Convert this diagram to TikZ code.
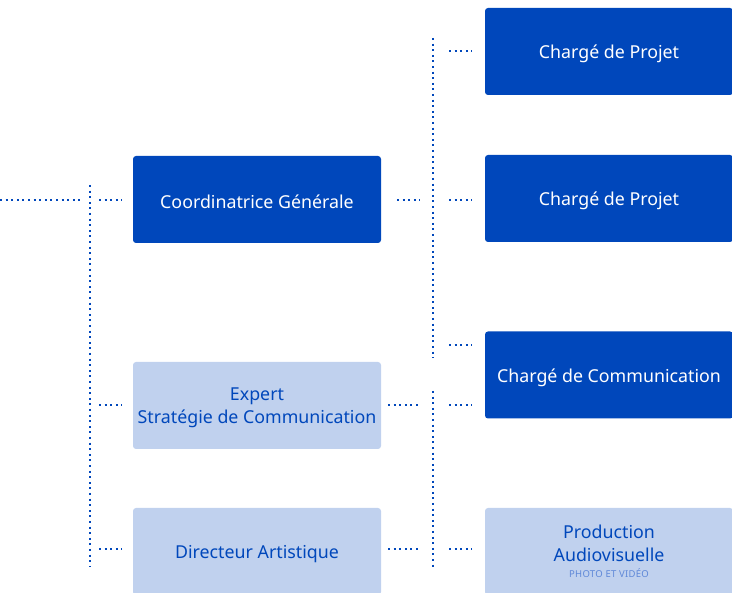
\documentclass[tikz,border=0pt]{standalone}
\usepackage{fontspec}
\setmainfont{Noto Sans}
\definecolor{dkblue}{HTML}{0047BB}
\definecolor{ltblue}{HTML}{C0D1EE}
\definecolor{smallblue}{HTML}{5F88D8}
\begin{document}
\begin{tikzpicture}[x=1pt,y=-1pt,
  box/.style={rounded corners=3pt,minimum width=248pt,minimum height=87pt,inner sep=0pt},
  dark/.style={box,fill=dkblue},
  light/.style={box,fill=ltblue},
  txt/.style={inner sep=0pt,font=\fontsize{17.8}{23}\selectfont,align=center},
  dtxt/.style={txt,text=white},
  ltxt/.style={txt,text=dkblue},
  dots/.style={draw=dkblue,line width=2pt,dash pattern=on 2pt off 3.6pt}]
\useasboundingbox (0,0) rectangle (732,593);
\begin{scope}
\clip (0,0) rectangle (732,593);
\node[dark] (coord) at (257,199.5) {};
\node[light] (expert) at (257,405.5) {};
\node[light] (dir) at (257,551.5) {};
\node[dark] (cp1) at (609,51.5) {};
\node[dark] (cp2) at (609,198.5) {};
\node[dark] (ccom) at (609,375) {};
\node[light] (prod) at (609,551.5) {};
\end{scope}
\node[dtxt] (tcoord) at ([yshift=-2.5pt]coord.center) {Coordinatrice Générale};
\node[ltxt] (texpert) at ([yshift=-2.5pt]expert.center) {Expert\\Stratégie de Communication};
\node[ltxt] (tdir) at ([yshift=-2.5pt]dir.center) {Directeur Artistique};
\node[dtxt] (tcp1) at ([yshift=-2.5pt]cp1.center) {Chargé de Projet};
\node[dtxt] (tcp2) at ([yshift=-2.5pt]cp2.center) {Chargé de Projet};
\node[dtxt] (tccom) at ([yshift=-2.5pt]ccom.center) {Chargé de Communication};
\node[ltxt] (tprod) at ([yshift=0pt]prod.center) {Production\\Audiovisuelle\\[-7pt]{\fontsize{9.5}{11}\selectfont\addfontfeature{LetterSpace=3}\color{smallblue}PHOTO ET VIDÉO}};
% left trunk
\coordinate (l0) at (0,200);
\coordinate (l1) at (83,200);
\coordinate (v1a) at (90,185);
\coordinate (v1b) at (90,566);
\draw[dots] (l0) -- (l1);
\draw[dots] (v1a) -- (v1b);
\draw[dots] (99,200) -- (122,200);
\draw[dots] (99,405) -- (122,405);
\draw[dots] (99,549) -- (122,549);
% from coordinatrice
\draw[dots] (397,200) -- (420,200);
\draw[dots] (433,38) -- (433,358);
\draw[dots] (449,51) -- (472,51);
\draw[dots] (449,200) -- (472,200);
\draw[dots] (449,345) -- (472,345);
% from expert / dir
\draw[dots] (388,405) -- (420,405);
\draw[dots] (388,549) -- (420,549);
\draw[dots] (433,391) -- (433,568);
\draw[dots] (449,405) -- (472,405);
\draw[dots] (449,549) -- (472,549);
\end{tikzpicture}
\end{document}
